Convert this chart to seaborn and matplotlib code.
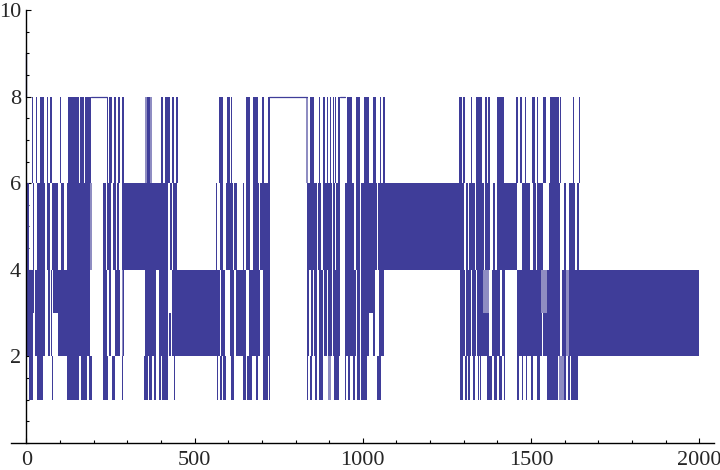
import pandas as pd
import matplotlib.pyplot as plt
from matplotlib.ticker import MultipleLocator
import seaborn as sns
import seaborn.objects as so

# x ranges where the trace fills each level pair
runs_8_6 = [(0, 1), (17, 20), (27, 30), (40, 52), (62, 65), (70, 76), (100, 104), (122, 157), (160, 170), (175, 192),
            (238, 242), (245, 255), (260, 265), (272, 278), (283, 290), (352, 374), (399, 407), (412, 427), (434, 438),
            (444, 450), (572, 584), (597, 604), (609, 612), (654, 664), (674, 687), (699, 707), (717, 724),
            (831, 838), (843, 855), (870, 873), (881, 888), (893, 895), (901, 905), (911, 913), (918, 921), (925, 931),
            (953, 967), (981, 991), (1003, 1017), (1029, 1039), (1051, 1055), (1061, 1067),
            (1286, 1294), (1298, 1304), (1312, 1314), (1322, 1324), (1336, 1344), (1346, 1354), (1364, 1369),
            (1372, 1377), (1398, 1421), (1454, 1461), (1466, 1472), (1481, 1484), (1490, 1492), (1503, 1511),
            (1519, 1522), (1536, 1546), (1555, 1584), (1586, 1590), (1624, 1629), (1642, 1646)]
runs_6_4 = [(2, 8), (18, 22), (32, 55), (62, 70), (77, 95), (102, 113), (120, 195), (228, 236), (240, 252), (258, 265),
            (270, 276), (285, 422), (427, 432), (437, 449), (562, 567), (574, 584), (592, 614), (617, 627), (644, 648),
            (654, 664), (674, 690), (694, 724), (833, 863), (868, 875), (881, 908), (911, 918), (921, 931), (946, 975),
            (981, 991), (995, 1041), (1045, 1302), (1306, 1314), (1316, 1332), (1336, 1359), (1362, 1379), (1388, 1394),
            (1399, 1459), (1472, 1496), (1506, 1514), (1519, 1536), (1552, 1586), (1597, 1604), (1614, 1632), (1636, 1642)]
runs_4_3 = [(2, 22), (25, 55), (65, 70), (72, 76), (78, 190), (228, 240), (244, 252), (262, 277), (283, 290),
            (352, 385), (394, 420), (432, 575), (577, 590), (604, 617), (624, 654), (662, 694), (702, 724),
            (835, 841), (845, 851), (855, 865), (869, 883), (885, 893), (895, 908), (910, 931), (946, 981), (983, 991),
            (995, 1037), (1048, 1063), (1289, 1304), (1307, 1322), (1326, 1336), (1338, 1356), (1358, 1374),
            (1384, 1409), (1414, 1424), (1457, 1484), (1486, 1514), (1516, 1532), (1537, 1587), (1592, 1604), (1612, 2000)]
runs_3_2 = [(2, 18), (25, 55), (65, 70), (72, 76), (95, 190), (228, 240), (244, 252), (262, 277), (283, 290),
            (352, 385), (394, 420), (424, 430), (432, 575), (577, 590), (604, 617), (624, 654), (662, 694), (702, 724),
            (835, 841), (845, 851), (855, 865), (869, 883), (885, 893), (895, 908), (910, 931), (946, 981), (983, 991),
            (995, 1017), (1031, 1037), (1048, 1063), (1289, 1304), (1307, 1322), (1326, 1336), (1338, 1356), (1358, 1374),
            (1384, 1409), (1414, 1424), (1457, 1484), (1486, 1514), (1516, 1532), (1537, 1587), (1592, 1604), (1612, 2000)]
runs_2_1 = [(7, 18), (30, 48), (75, 78), (121, 157), (163, 180), (187, 194), (228, 242), (255, 262), (285, 288), (348, 360),
            (364, 372), (379, 385), (395, 400), (404, 420), (438, 442), (565, 570), (574, 580), (584, 592), (607, 617),
            (645, 652), (657, 670), (682, 687), (702, 717), (720, 723), (833, 837), (843, 849), (857, 863), (871, 881),
            (895, 901), (913, 929), (946, 951), (956, 963), (970, 976), (983, 991), (996, 1013), (1041, 1055),
            (1289, 1297), (1304, 1309), (1314, 1319), (1329, 1334), (1342, 1346), (1349, 1352), (1369, 1384), (1389, 1399),
            (1404, 1414), (1421, 1424), (1457, 1464), (1472, 1476), (1484, 1489), (1499, 1506), (1517, 1526), (1547, 1552),
            (1554, 1579), (1582, 1589), (1597, 1604), (1609, 1616), (1619, 1639)]

# paler stretches, where the strokes are sparse: (start, end, low, high)
pale_runs = [(352, 358, 6, 8), (366, 374, 6, 8), (831, 838, 6, 8), (188, 195, 4, 6), (1358, 1374, 3, 4), (1530, 1547, 3, 4),
             (1604, 1612, 2, 4), (1590, 1597, 1, 2), (895, 906, 1, 2), (1582, 1589, 1, 2), (285, 288, 2, 4)]

# stretches where the trace sits at 8 and only draws a flat line
plateaus_at_8 = [(192, 238), (722, 833), (931, 946)]
start_stroke_x = [0, 0]
start_stroke_y = [9, 8]

x_ticks = [0, 500, 1000, 1500, 2000]
y_ticks = [2, 4, 6, 8, 10]
line_color = '#3f3d99'

levels = [(runs_8_6, 6, 8), (runs_6_4, 4, 6), (runs_4_3, 3, 4), (runs_3_2, 2, 3), (runs_2_1, 1, 2)]
rows = []
for runs, low, high in levels:
    for start, end in runs:
        run_id = f'{low}-{start}'
        rows.append({'x': start, 'low': low, 'high': high, 'run': run_id})
        rows.append({'x': end, 'low': low, 'high': high, 'run': run_id})
df_runs = pd.DataFrame(rows)

rows = []
for start, end, low, high in pale_runs:
    run_id = f'{low}-{start}'
    rows.append({'x': start, 'low': low, 'high': high, 'run': run_id})
    rows.append({'x': end, 'low': low, 'high': high, 'run': run_id})
df_pale = pd.DataFrame(rows)

rows = []
for start, end in plateaus_at_8:
    rows.append({'x': start, 'y': 8, 'run': start})
    rows.append({'x': end, 'y': 8, 'run': start})
for px, py in zip(start_stroke_x, start_stroke_y):
    rows.append({'x': px, 'y': py, 'run': -1})
df_lines = pd.DataFrame(rows)

sns.set_style('white')
plt.rcParams['font.family'] = ['Liberation Serif', 'DejaVu Serif']

fig = plt.figure(figsize=(7.2, 4.7), dpi=100)
ax = fig.add_axes([11 / 720, 27 / 470, 703 / 720, 433 / 470])

so.Plot(df_runs, x='x', ymin='low', ymax='high', group='run').add(
    so.Band(color=line_color, alpha=1, edgewidth=0)).on(ax).plot()
so.Plot(df_pale, x='x', ymin='low', ymax='high', group='run').add(
    so.Band(color='#8f8dc2', alpha=1, edgewidth=0)).on(ax).plot()
sns.lineplot(data=df_lines, x='x', y='y', units='run', estimator=None, sort=False,
             color=line_color, linewidth=0.9, ax=ax, legend=False)

ax.set_xlim(-46, 2044)
ax.set_ylim(0, 10)
ax.set_xlabel('')
ax.set_ylabel('')
ax.spines['top'].set_visible(False)
ax.spines['right'].set_visible(False)
ax.spines['left'].set_position(('data', 0))
ax.spines['left'].set_linewidth(1.0)
ax.spines['bottom'].set_linewidth(1.0)
ax.spines['left'].set_color('black')
ax.spines['bottom'].set_color('black')
ax.set_xticks(x_ticks)
ax.set_yticks(y_ticks)
ax.xaxis.set_minor_locator(MultipleLocator(100))
ax.yaxis.set_minor_locator(MultipleLocator(0.5))
ax.tick_params(which='major', direction='in', length=3.5, width=0.8, color='black', labelsize=16, bottom=True, left=True)
ax.tick_params(axis='x', which='major', pad=6)
ax.tick_params(axis='y', which='major', pad=4)
ax.tick_params(which='minor', direction='in', length=2.2, width=0.8, color='black', bottom=True, left=True)
ax.patch.set_visible(False)

fig.savefig('out.png', dpi=100)
